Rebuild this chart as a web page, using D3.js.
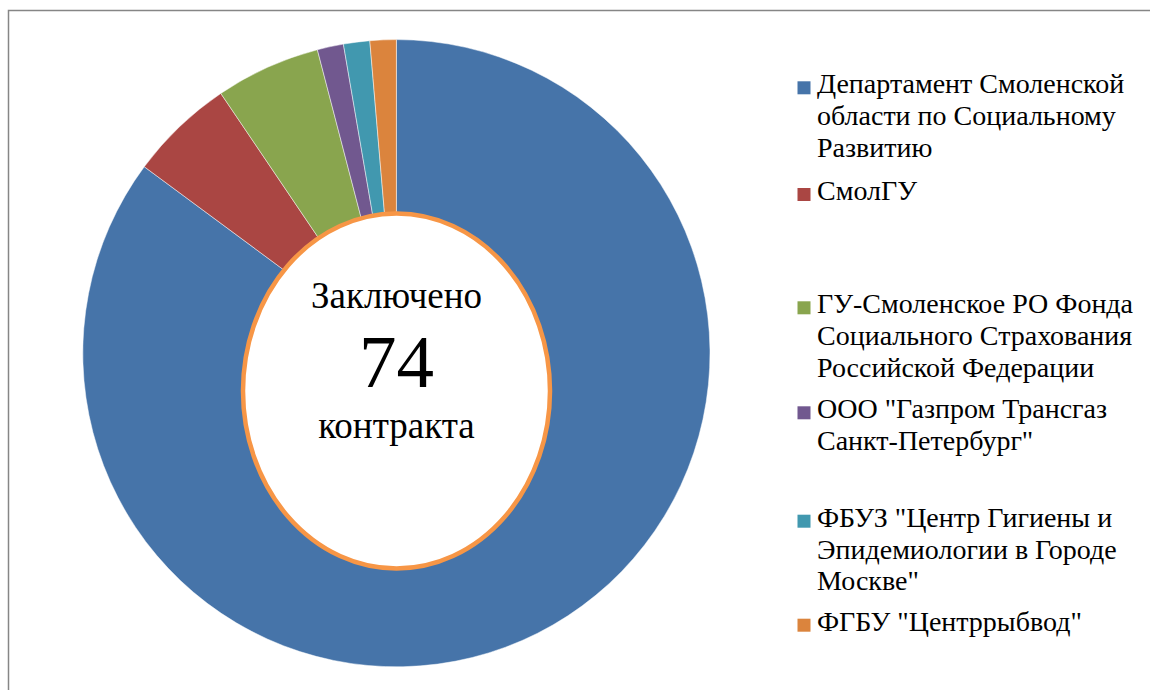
<!DOCTYPE html>
<html>
<head>
<meta charset="utf-8">
<script src="https://cdn.jsdelivr.net/npm/d3@7"></script>
<style>
  html, body { margin: 0; padding: 0; background: #fff; }
  svg { display: block; }
</style>
</head>
<body>
<svg id="chart" width="1150" height="690"></svg>
<script>
// ---- data ----
const categories = [
  "Департамент Смоленской области по Социальному Развитию",
  "СмолГУ",
  "ГУ-Смоленское РО Фонда Социального Страхования Российской Федерации",
  "ООО \"Газпром Трансгаз Санкт-Петербург\"",
  "ФБУЗ \"Центр Гигиены и Эпидемиологии в Городе Москве\"",
  "ФГБУ \"Центррыбвод\""
];
const legendLines = [
  ["Департамент Смоленской", "области по Социальному", "Развитию"],
  ["СмолГУ"],
  ["ГУ-Смоленское РО Фонда", "Социального Страхования", "Российской Федерации"],
  ["ООО \"Газпром Трансгаз", "Санкт-Петербург\""],
  ["ФБУЗ \"Центр Гигиены и", "Эпидемиологии в Городе", "Москве\""],
  ["ФГБУ \"Центррыбвод\""]
];
const values = [63, 4, 4, 1, 1, 1];
const colors = ["#4674A9", "#AA4643", "#89A54E", "#71588F", "#4198AF", "#DB843D"];
const centerLabel = ["Заключено", "74", "контракта"];

// ---- layout ----
const svg = d3.select("#chart");
const font = "'Liberation Serif', 'Times New Roman', serif";

// outer frame
svg.append("rect")
  .attr("x", 8.5).attr("y", 10.5)
  .attr("width", 1200).attr("height", 700)
  .attr("fill", "none").attr("stroke", "#868686").attr("stroke-width", 1.5);

const cx = 396.4, cy = 353.2, rOuter = 313.6, rInner = 100;

const pie = d3.pie().sort(null).value(d => d)
  .startAngle(0).endAngle(2 * Math.PI);
const arc = d3.arc().innerRadius(rInner).outerRadius(rOuter);

const g = svg.append("g").attr("transform", `translate(${cx},${cy})`);
g.selectAll("path.slice")
  .data(pie(values))
  .join("path")
  .attr("class", "slice")
  .attr("d", arc)
  .attr("fill", (d, i) => colors[i])
  .attr("stroke", "#ffffff")
  .attr("stroke-opacity", 0.6)
  .attr("stroke-width", 0.8);

// center ellipse
svg.append("ellipse")
  .attr("cx", 396.5).attr("cy", 391)
  .attr("rx", 153.5).attr("ry", 177.5)
  .attr("fill", "#ffffff")
  .attr("stroke", "#F79646").attr("stroke-width", 4.5);

const labelY = [308, 387, 438];
const labelSize = [37, 75, 37];
svg.selectAll("text.center")
  .data(centerLabel)
  .join("text")
  .attr("class", "center")
  .attr("x", 396.5)
  .attr("y", (d, i) => labelY[i])
  .attr("text-anchor", "middle")
  .attr("font-family", font)
  .attr("font-size", (d, i) => labelSize[i])
  .attr("fill", "#000")
  .text(d => d);

// legend
const legendBase = [93.3, 200, 313.3, 418.3, 526.7, 630.7];
const lineH = 31.8;
const lg = svg.append("g");
const items = lg.selectAll("g.item")
  .data(categories.map((c, i) => ({ name: c, lines: legendLines[i], color: colors[i], y: legendBase[i] })))
  .join("g").attr("class", "item");

items.append("rect")
  .attr("x", 797.5)
  .attr("y", d => d.y - 12)
  .attr("width", 13).attr("height", 13)
  .attr("fill", d => d.color);

items.append("text")
  .attr("x", 817)
  .attr("y", d => d.y)
  .attr("font-family", font)
  .attr("font-size", 28)
  .attr("fill", "#000")
  .selectAll("tspan")
  .data(d => d.lines)
  .join("tspan")
  .attr("x", 817)
  .attr("dy", (d, i) => i === 0 ? 0 : lineH)
  .text(d => d);
</script>
</body>
</html>
